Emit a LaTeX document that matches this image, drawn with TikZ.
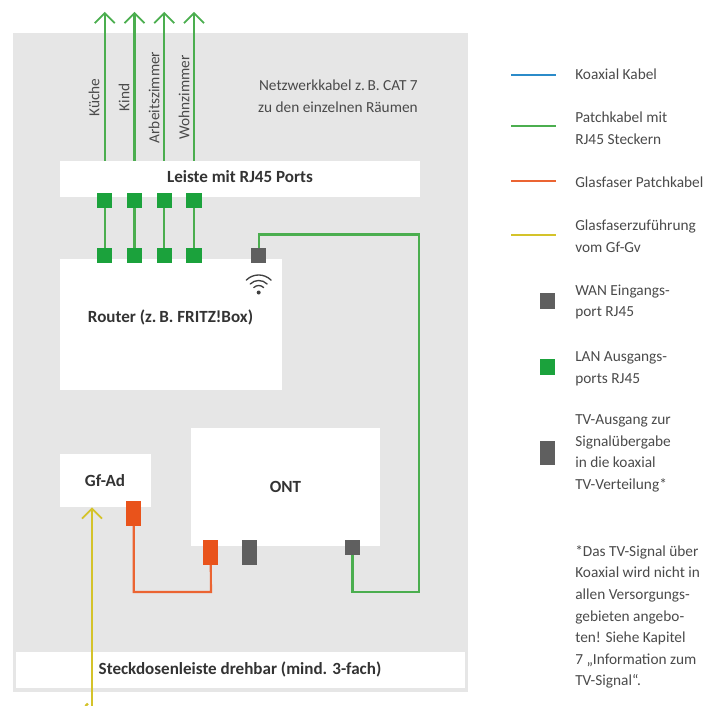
\documentclass[tikz,border=0pt]{standalone}
\usepackage{fontspec}
\setmainfont{Carlito}
\usetikzlibrary{arrows.meta}
\definecolor{bggrey}{HTML}{E6E6E6}
\definecolor{textgrey}{HTML}{4A4A4A}
\definecolor{portgrey}{HTML}{5F5F5F}
\definecolor{langreen}{HTML}{1BA23C}
\definecolor{patchgreen}{HTML}{4BAE4F}
\definecolor{fiberorange}{HTML}{E9531B}
\definecolor{feedyellow}{HTML}{D4C32A}
\definecolor{coaxblue}{HTML}{2B8BC9}
\tikzset{
	box/.style={fill=white, inner sep=0pt, text=black!80, font=\fontsize{12.8}{15}\selectfont\bfseries},
	lan/.style={fill=langreen, inner sep=0pt, minimum width=11.4pt, minimum height=11.4pt},
	wan/.style={fill=portgrey, inner sep=0pt, minimum width=11.4pt, minimum height=11.4pt},
	tvport/.style={fill=portgrey, inner sep=0pt, minimum width=11.4pt, minimum height=18.4pt},
	fiberport/.style={fill=fiberorange, inner sep=0pt, minimum width=11.4pt, minimum height=18.4pt},
	patch/.style={draw=patchgreen, line width=1.6pt},
	fiber/.style={draw=fiberorange!90!white, line width=1.6pt},
	feed/.style={draw=feedyellow, line width=1.6pt},
	coax/.style={draw=coaxblue, line width=1.6pt},
	barb/.style={-{Straight Barb[length=7.5pt, width=15pt, line width=1.3pt]}},
	wifi/.style={line width=1pt, black!75, line cap=round},
	label/.style={text=textgrey, inner sep=0pt, font=\fontsize{11.5}{16.2}\selectfont, align=left, anchor=west},
	room/.style={text=textgrey, inner sep=0pt, font=\fontsize{11.5}{13}\selectfont, rotate=90}
}
\begin{document}
\begin{tikzpicture}[x=0.75pt, y=-0.75pt]
	\useasboundingbox (0,0) rectangle (721,706);
	\node (bg) [fill=bggrey, inner sep=0pt, minimum width=341.6pt, minimum height=494.3pt] at (240.25,362.25) {};

	\node (leiste) [box, minimum width=270pt, minimum height=27pt] at (240,179) {};
	\node (leistetext) [box, fill=none] at (240,177) {Leiste mit RJ45 Ports};
	\node (router) [box, minimum width=166.5pt, minimum height=98.3pt] at (171,324.5) {};
	\node (routertext) [box, fill=none] at (170.5,317) {Router (z.\,B. FRITZ!Box)};
	\node (ont) [box, minimum width=141.8pt, minimum height=88.5pt] at (285.5,487) {ONT};
	\node (gfad) [box, minimum width=68pt, minimum height=39.8pt] at (105.25,480.5) {};
	\node (gfadtext) [box, fill=none] at (105,481) {Gf-Ad};
	\node (steckdosen) [box, minimum width=336.8pt, minimum height=27pt] at (240.5,670) {};
	\node (steckdosentext) [box, fill=none] at (240,669) {Steckdosenleiste drehbar (mind. 3-fach)};

	\node (lana) [lan] at (104.75,200.5) {};
	\node (lanb) [lan] at (134.5,200.5) {};
	\node (lanc) [lan] at (164.25,200.5) {};
	\node (land) [lan] at (194,200.5) {};
	\node (rlana) [lan] at (104.75,255.5) {};
	\node (rlanb) [lan] at (134.5,255.5) {};
	\node (rlanc) [lan] at (164.25,255.5) {};
	\node (rland) [lan] at (194,255.5) {};
	\node (rwan) [wan] at (258.75,255.5) {};
	\node (ontwan) [wan] at (352.5,547.5) {};
	\node (ontfiber) [fiberport] at (210.75,552.25) {};
	\node (onttv) [tvport] at (249.5,552.25) {};
	\node (gffiber) [fiberport] at (133.75,513.25) {};

	\coordinate (kueche) at (104.75,12);
	\coordinate (kind) at (134.5,12);
	\coordinate (arbeit) at (164.25,12);
	\coordinate (wohn) at (194,12);
	\coordinate (gfgv) at (92,706);
	\coordinate (gfgvtip) at (85.5,706);
	\coordinate (gfgvend) at (88,703.5);

	\draw[patch, barb] (leiste.north -| kueche) -- (kueche);
	\draw[patch, barb] (leiste.north -| kind) -- (kind);
	\draw[patch, barb] (leiste.north -| arbeit) -- (arbeit);
	\draw[patch, barb] (leiste.north -| wohn) -- (wohn);
	\draw[patch] (lana) -- (rlana);
	\draw[patch] (lanb) -- (rlanb);
	\draw[patch] (lanc) -- (rlanc);
	\draw[patch] (land) -- (rland);
	\draw[patch] (rwan.north) |- (419,234.5) |- (352.5,592) -- (ontwan.south);
	\draw[fiber] (gffiber.south) |- (211,592) -- (ontfiber.south);
	\draw[feed, barb] (gfgv) -- (gfad.south -| gfgv);
	\draw[feed] (gfgvtip) -- (gfgvend);

	\node (kuechetext) [room] at (94,97.5) {Küche};
	\node (kindtext) [room] at (124,97.5) {Kind};
	\node (arbeittext) [room] at (154,97.5) {Arbeitszimmer};
	\node (wohntext) [room] at (184,97.5) {Wohnzimmer};
	\node (netztext) [label, anchor=east, align=right] at (418,96) {Netzwerkkabel z.\,B. CAT 7\\zu den einzelnen Räumen};

	\draw[wifi] (246.3,280.1) arc (-135:-45:17.5);
	\draw[wifi] (250.2,284) arc (-135:-45:12);
	\draw[wifi] (253.75,287.55) arc (-135:-45:7);
	\fill[black!75] (258.7,292.5) circle (2);

	\coordinate (lgcoaxa) at (511,75);
	\coordinate (lgcoaxb) at (556,75);
	\coordinate (lgpatcha) at (511,126);
	\coordinate (lgpatchb) at (556,126);
	\coordinate (lgfibera) at (511,181);
	\coordinate (lgfiberb) at (556,181);
	\coordinate (lgfeeda) at (511,235);
	\coordinate (lgfeedb) at (556,235);
	\draw[coax] (lgcoaxa) -- (lgcoaxb);
	\draw[patch] (lgpatcha) -- (lgpatchb);
	\draw[fiber] (lgfibera) -- (lgfiberb);
	\draw[feed] (lgfeeda) -- (lgfeedb);
	\node (lgwan) [wan] at (547.75,301) {};
	\node (lglan) [lan] at (547.5,367) {};
	\node (lgtv) [tvport] at (547.5,453) {};

	\node (lgcoaxtext) [label] at (575,74) {Koaxial Kabel};
	\node (lgpatchtext) [label] at (575,128) {Patchkabel mit\\RJ45 Steckern};
	\node (lgfibertext) [label] at (575,182) {Glasfaser Patchkabel};
	\node (lgfeedtext) [label] at (575,236) {Glasfaserzuführung\\vom Gf-Gv};
	\node (lgwantext) [label] at (575,302) {WAN Eingangs-\\port RJ45};
	\node (lglantext) [label] at (575,369) {LAN Ausgangs-\\ports RJ45};
	\node (lgtvtext) [label] at (575,453.5) {TV-Ausgang zur\\Signalübergabe\\in die koaxial\\TV-Verteilung*};
	\node (lgnotetext) [label] at (575,617) {*Das TV-Signal über\\Koaxial wird nicht in\\allen Versorgungs-\\gebieten angebo-\\ten! Siehe Kapitel\\7 „Information zum\\TV-Signal“.};
\end{tikzpicture}
\end{document}
